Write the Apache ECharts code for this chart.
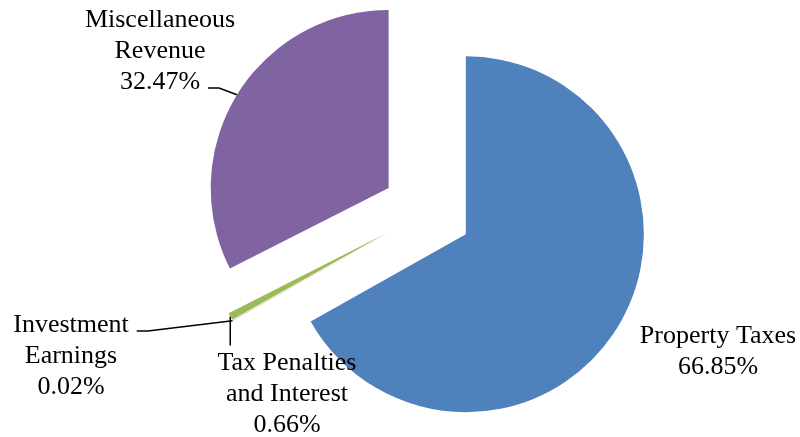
<!DOCTYPE html>
<html><head><meta charset="utf-8">
<script src="https://cdn.jsdelivr.net/npm/echarts@6/dist/echarts.min.js"></script>
<style>html,body{margin:0;padding:0;background:#fff}#c{width:800px;height:437px}</style>
</head><body><div id="c"></div>
<script>
var categories = ['Property Taxes', 'Investment\nEarnings', 'Tax Penalties\nand Interest', 'Miscellaneous\nRevenue'];
var values = [66.85, 0.02, 0.66, 32.47];
var colors = ['#4F81BD', '#C0504D', '#9BBB59', '#8064A2'];
var labelPos = [[718, 352], [71, 356], [287, 394], [160, 51]];
var leaderKind = ['none', 'rightFirst', 'top', 'rightLast'];

var FONT = 'Liberation Serif', FS = 26, LH = 31;
var cx = 427, cy = 211.5, R = 178, explode = 45;
var total = values.reduce(function (a, b) { return a + b; }, 0);
var ctx = document.createElement('canvas').getContext('2d');
ctx.font = FS + 'px "' + FONT + '"';
function fmt(name, v) { return name + '\n' + v.toFixed(2) + '%'; }

function leader(i, anchor) {
  var kind = leaderKind[i];
  var lines = fmt(categories[i], values[i]).split('\n');
  var x = labelPos[i][0], y = labelPos[i][1];
  var top = y - lines.length * LH / 2;
  if (kind === 'top') {
    var e = [anchor[0], top - 2];
    return [anchor, [anchor[0], (anchor[1] + e[1]) / 2], e];
  }
  var k = kind === 'rightFirst' ? 0 : lines.length - 1;
  var w = ctx.measureText(lines[k]).width;
  var end = [x + w / 2 + 8, top + (k + 0.5) * LH + 6];
  return [anchor, [end[0] + 11, end[1]], end];
}

var chart = echarts.init(document.getElementById('c'), null, {renderer: 'canvas'});
var cum = 0;
var series = values.map(function (v, i) {
  var mid = (cum + v / 2) / total * 2 * Math.PI;
  cum += v;
  var dx = explode * Math.sin(mid), dy = -explode * Math.cos(mid);
  return {
    type: 'pie',
    center: [cx + dx, cy + dy],
    radius: R,
    startAngle: 90,
    clockwise: true,
    avoidLabelOverlap: false,
    silent: true,
    emphasis: {scale: false, disabled: true},
    data: categories.map(function (n, j) {
      return {
        name: n, value: values[j],
        itemStyle: {color: j === i ? colors[j] : 'rgba(0,0,0,0)'},
        label: {show: j === i},
        labelLine: {show: j === i && leaderKind[j] !== 'none'}
      };
    }),
    label: {
      formatter: function (p) { return fmt(p.name, p.value); },
      fontFamily: FONT,
      fontSize: FS,
      lineHeight: LH,
      color: '#000',
      align: 'center'
    },
    labelLine: {length: 15, length2: 15, lineStyle: {color: '#000', width: 1.5}},
    labelLayout: function (p) {
      var pos = labelPos[p.dataIndex];
      var out = {x: pos[0], y: pos[1], align: 'center', verticalAlign: 'middle'};
      if (leaderKind[p.dataIndex] !== 'none' && p.labelLinePoints) {
        out.labelLinePoints = leader(p.dataIndex, p.labelLinePoints[0]);
      }
      return out;
    }
  };
});
chart.setOption({animation: false, series: series});
</script></body></html>
